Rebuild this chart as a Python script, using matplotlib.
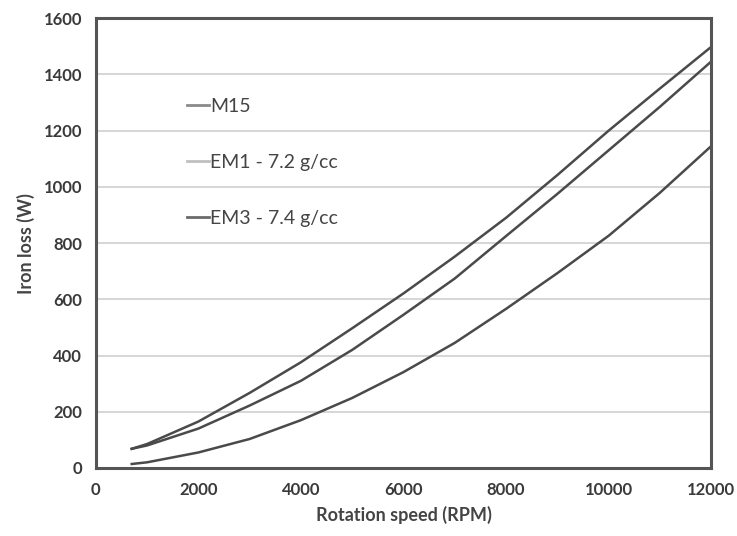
import numpy as np
import matplotlib.pyplot as plt

# speeds (RPM) and iron losses (W)
rpm = [700, 1000, 2000, 3000, 4000, 5000, 6000, 7000, 8000, 9000, 10000, 11000, 12000]
loss_top = [68, 85, 165, 267, 376, 497, 621, 752, 890, 1042, 1200, 1350, 1498]
loss_mid = [68, 80, 140, 222, 310, 420, 545, 674, 825, 975, 1130, 1285, 1446]
loss_low = [14, 20, 55, 103, 170, 249, 341, 445, 566, 693, 826, 979, 1145]

labels = ['M15', 'EM1 - 7.2 g/cc', 'EM3 - 7.4 g/cc']
series = [loss_low, loss_top, loss_mid]
x_ticks = [0, 2000, 4000, 6000, 8000, 10000, 12000]
y_ticks = [0, 200, 400, 600, 800, 1000, 1200, 1400, 1600]

plt.rcParams['font.family'] = ['Lato', 'DejaVu Sans']

fig = plt.figure(figsize=(7.37, 5.36), dpi=100)
ax = fig.add_axes([0.130, 0.127, 0.835, 0.839])

for vals, lab in zip(series, labels):
    ax.plot(rpm, vals, color='#4a4a4a', linewidth=1.8, label=lab, solid_joinstyle='round')

ax.set_xlim(0, 12000)
ax.set_ylim(0, 1600)
ax.set_xticks(x_ticks)
ax.set_yticks(y_ticks)
ax.grid(axis='y', color='#cfcfcf', linewidth=1.2)
ax.set_axisbelow(True)

for sp in ax.spines.values():
    sp.set_color('#555555')
    sp.set_linewidth(2.2)

ax.tick_params(length=0, pad=10, labelsize=12, labelcolor='#3a3a3a')
for t in ax.get_xticklabels() + ax.get_yticklabels():
    t.set_fontweight('bold')

ax.set_xlabel('Rotation speed (RPM)', fontsize=13, fontweight='bold', color='#444444', labelpad=6)
ax.set_ylabel('Iron loss (W)', fontsize=13, fontweight='bold', color='#444444', labelpad=6)

leg = ax.legend(loc='upper left', bbox_to_anchor=(0.12, 0.862), frameon=False,
                fontsize=14, handlelength=1.1, handletextpad=0.1, labelspacing=2.0,
                labelcolor='#444444')
for ln, c in zip(leg.get_lines(), ['#8a8a8a', '#c0c0c0', '#6a6a6a']):
    ln.set_color(c)
    ln.set_linewidth(2)

fig.savefig('out.png', dpi=100)
